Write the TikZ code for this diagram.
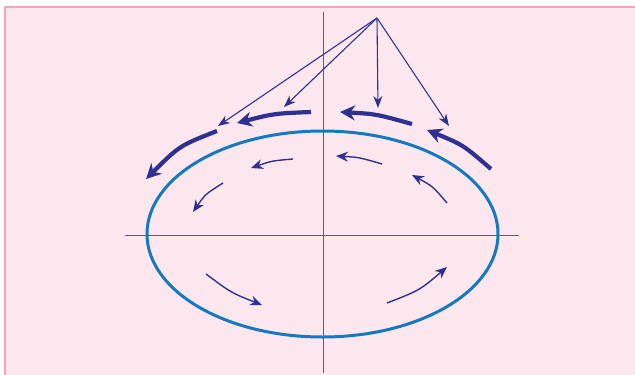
\documentclass[tikz,border=0pt]{standalone}
\usetikzlibrary{arrows.meta}
\definecolor{bgpink}{HTML}{FCE7EF}
\definecolor{borderpink}{HTML}{F5A3C0}
\definecolor{ellblue}{HTML}{1679BF}
\definecolor{arrowblue}{HTML}{2E3192}
\definecolor{axiscol}{HTML}{5E52A6}
\begin{document}
\begin{tikzpicture}[x=1pt,y=-1pt,
  thickarrow/.style={draw=arrowblue,line width=4.2pt,-{Stealth[length=15pt,width=15pt]}},
  thinarrow/.style={draw=arrowblue,line width=1.4pt,-{Stealth[length=12pt,width=10pt]}},
  pointer/.style={draw=arrowblue,line width=1.1pt,-{Stealth[length=12pt,width=9pt]}},
  axisline/.style={draw=axiscol,line width=1pt}]
\useasboundingbox (0,0) rectangle (635,375);
\fill[bgpink] (4,6) rectangle (635,375);
\draw[borderpink,line width=2pt] (5,375) -- (5,7) -- (635,7);
% axes
\coordinate (vtop) at (323,12);
\coordinate (vbot) at (323,373);
\coordinate (hleft) at (125,235);
\coordinate (hright) at (519,235);
\draw[axisline] (vtop) -- (vbot);
\draw[axisline] (hleft) -- (hright);
% ellipse
\coordinate (ctr) at (322.5,234);
\draw[ellblue,line width=3pt] (ctr) ellipse [x radius=175.5pt, y radius=103pt];
% outer thick arrows
\coordinate (t1s) at (217,131); \coordinate (t1e) at (146,179);
\coordinate (t2s) at (311,112); \coordinate (t2e) at (237,123);
\coordinate (t3s) at (412,124); \coordinate (t3e) at (340,112);
\coordinate (t4s) at (491,169); \coordinate (t4e) at (427,130);
\draw[thickarrow] (t1s) .. controls (179.5,145.7) .. (t1e);
\draw[thickarrow] (t2s) .. controls (274,113.5) .. (t2e);
\draw[thickarrow] (t3s) .. controls (376,114) .. (t3e);
\draw[thickarrow] (t4s) .. controls (463,144.8) .. (t4e);
% pointers from apex
\coordinate (apex) at (377,18);
\coordinate (p1) at (218,126);
\coordinate (p2) at (284,107);
\coordinate (p3) at (378,108);
\coordinate (p4) at (449,126);
\draw[pointer] (apex) -- (p1);
\draw[pointer] (apex) -- (p2);
\draw[pointer] (apex) -- (p3);
\draw[pointer] (apex) -- (p4);
% inner thin arrows
\coordinate (as) at (293,159); \coordinate (ae) at (251,168);
\coordinate (bs) at (223,183); \coordinate (be) at (193,212);
\coordinate (cs) at (382,164); \coordinate (ce) at (336,156);
\coordinate (ds) at (447,203); \coordinate (de) at (412,175);
\coordinate (es) at (206,274); \coordinate (ee) at (262,305);
\coordinate (fs) at (387,303); \coordinate (fe) at (447,267);
\draw[thinarrow] (as) .. controls (272,160.8) .. (ae);
\draw[thinarrow] (bs) .. controls (205.3,194.2) .. (be);
\draw[thinarrow] (cs) .. controls (359,157.3) .. (ce);
\draw[thinarrow] (ds) .. controls (432.8,186.3) .. (de);
\draw[thinarrow] (es) .. controls (231.3,292.8) .. (ee);
\draw[thinarrow] (fs) .. controls (419.7,290.3) .. (fe);
\end{tikzpicture}
\end{document}
